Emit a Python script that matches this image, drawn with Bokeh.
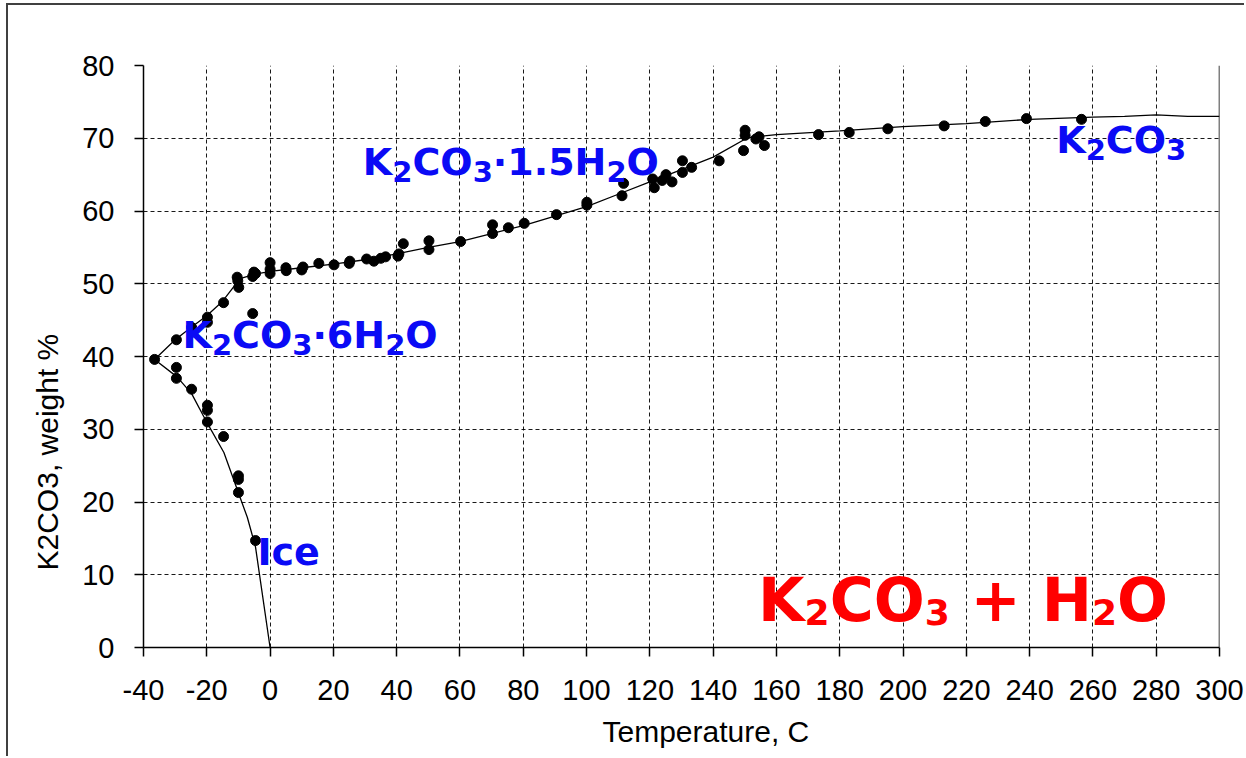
import math
from bokeh.plotting import figure
from bokeh.models import Range1d, Label, Span, FixedTicker, Title, PrintfTickFormatter
from bokeh.embed import file_html
from bokeh.resources import INLINE

# ---------------- data ----------------
x_ticks = list(range(-40, 301, 20))
y_ticks = list(range(0, 81, 10))

# measured points (Temperature, C ; K2CO3 weight %)
pts_t = [-36.5, -29.6, -29.6, -24.8, -19.8, -19.8, -19.8, -14.7, -10.0, -10.0, -10.0, -4.6,
         -29.6, -24.8, -19.8, -19.8, -14.7, -9.9, -10.2, -10.4, -5.5,
         -5.1, -5.5, -4.6, 0.0, 0.0, 0.0, 5.1, 5.0, 10.4, 10.0, 15.4, 20.2, 25.2, 25.0,
         30.5, 32.8, 35.0, 36.5, 40.4, 40.7, 42.1, 50.2, 50.2, 60.2, 70.3, 70.3, 75.3,
         80.3, 90.5, 100.1, 100.1, 111.2, 111.7, 120.9, 121.4, 123.9, 125.1, 127.0,
         130.3, 130.3, 133.2, 141.9, 150.1, 150.1, 149.6, 153.5, 154.5, 156.2,
         173.3, 183.0, 195.2, 213.0, 226.0, 239.0, 256.4]
pts_w = [39.6, 38.5, 37.0, 35.5, 33.3, 32.6, 31.0, 29.0, 23.6, 23.1, 21.3, 14.7,
         42.3, 44.0, 45.4, 44.7, 47.4, 49.5, 50.4, 50.9, 45.9,
         51.6, 51.0, 51.4, 52.9, 51.4, 52.0, 51.8, 52.2, 52.3, 51.9, 52.8, 52.6, 53.1, 52.8,
         53.4, 53.1, 53.5, 53.7, 53.8, 54.1, 55.5, 55.9, 54.7, 55.8, 58.1, 56.9, 57.7,
         58.3, 59.5, 61.2, 60.8, 62.1, 63.8, 64.4, 63.2, 64.2, 65.0, 64.0,
         66.9, 65.3, 66.0, 66.9, 71.1, 70.4, 68.3, 69.9, 70.2, 69.0,
         70.5, 70.8, 71.3, 71.7, 72.3, 72.7, 72.6]

# solubility curves
ice_t = [-36.5, -29.4, -24.8, -19.8, -14.6, -9.3, -7.2, -4.6, 0.0]
ice_w = [39.6, 37.2, 34.9, 30.8, 26.8, 20.4, 17.9, 13.8, 0.0]

hexa_t = [-36.5, -30.0, -25.0, -20.0, -15.0, -9.5]
hexa_w = [39.6, 42.3, 44.0, 45.6, 47.6, 50.7]

sesqui_t = [-9.5, -5, 0, 10, 20, 30, 40, 50, 60, 70, 80, 90, 100, 110, 120, 130, 140, 151]
sesqui_w = [50.7, 51.3, 51.7, 52.2, 52.7, 53.3, 54.1, 55.0, 55.8, 56.9, 58.0, 59.3,
            60.6, 62.3, 64.0, 65.7, 67.4, 70.1]

anhyd_t = [151, 160, 180, 200, 220, 240, 260, 270, 280, 290, 300]
anhyd_w = [70.1, 70.5, 71.0, 71.6, 72.0, 72.6, 72.9, 73.0, 73.2, 73.0, 73.0]

# ---------------- figure ----------------
W, H = 1238, 753
p = figure(width=W, height=H, x_range=Range1d(-40, 300), y_range=Range1d(0, 80),
           output_backend="svg", toolbar_location=None,
           min_border_left=135, min_border_right=27, min_border_top=60, min_border_bottom=111)
p.styles = {"margin-left": "6px", "margin-top": "3px",
            "border-left": "2px solid #404040", "border-top": "2px solid #404040"}
p.outline_line_color = None
p.background_fill_color = "white"
p.border_fill_color = "white"

for ax, ticks in ((p.xaxis[0], x_ticks), (p.yaxis[0], y_ticks)):
    ax.ticker = FixedTicker(ticks=ticks)
    ax.formatter = PrintfTickFormatter(format="%d")
    ax.axis_line_color = "black"
    ax.axis_line_width = 1.5
    ax.major_tick_line_color = "black"
    ax.major_tick_line_width = 1.5
    ax.major_tick_in = 0
    ax.major_tick_out = 9
    ax.minor_tick_line_color = None
    ax.major_label_text_font = "Liberation Sans"
    ax.major_label_text_font_size = "29px"
    ax.major_label_text_color = "black"
p.yaxis[0].major_label_standoff = 20
p.xaxis[0].major_label_standoff = 23

for g in (p.xgrid[0], p.ygrid[0]):
    g.grid_line_color = "black"
    g.grid_line_dash = "4 3"
    g.grid_line_width = 1
    g.grid_line_alpha = 0.9

p.add_layout(Span(location=300, dimension="height", line_color="black", line_width=1.5))

# curves
for t, w in ((ice_t, ice_w), (hexa_t, hexa_w), (sesqui_t, sesqui_w), (anhyd_t, anhyd_w)):
    p.line(t, w, line_color="black", line_width=1.3)

p.scatter(pts_t, pts_w, size=10, marker="circle", fill_color="black", line_color="black")

# axis titles (placed as side titles so that they can sit off-centre like the original)
p.add_layout(Title(text="Temperature, C", align="left", offset=459, standoff=21,
                   text_font="Liberation Sans", text_font_size="30px",
                   text_font_style="normal", text_color="black"), "below")
p.add_layout(Title(text="K2CO3, weight %", align="left", offset=77, standoff=31,
                   text_font="Liberation Sans", text_font_size="30px",
                   text_font_style="normal", text_color="black"), "left")

# formula annotations built from pieces (main / subscript)
ADV = {'K': .775, 'C': .734, 'O': .850, 'H': .837, 'I': .372, 'c': .593, 'e': .678,
       '.': .380, '·': .380, ' ': .348, '+': .838}
for d in "0123456789":
    ADV[d] = .696

def formula(parts, x, y, size, sub_size, drop, color):
    off = 0.0
    for txt, sub in parts:
        fs = sub_size if sub else size
        lead = len(txt) - len(txt.lstrip())
        off += lead * ADV[' '] * fs
        body = txt.strip()
        p.add_layout(Label(x=x, y=y, x_offset=off,
                           y_offset=(-drop if sub else 0) + 0.42 * size, text=body,
                           text_font="DejaVu Sans", text_font_style="bold",
                           text_font_size=f"{fs}px", text_color=color,
                           text_align="left", text_baseline="alphabetic"))
        off += sum(ADV.get(ch, .7) for ch in txt.lstrip()) * fs

BLUE = "#0A0AF5"
formula([("K", 0), ("2", 1), ("CO", 0), ("3", 1), ("·6H", 0), ("2", 1), ("O", 0)],
        -27.7, 40.8, 38, 29, 10, BLUE)
formula([("K", 0), ("2", 1), ("CO", 0), ("3", 1), ("·1.5H", 0), ("2", 1), ("O", 0)],
        29.3, 64.6, 38, 29, 10, BLUE)
formula([("K", 0), ("2", 1), ("CO", 0), ("3", 1)], 248.4, 67.6, 38, 29, 10, BLUE)
formula([("Ice", 0)], -4.0, 10.9, 38, 29, 10, BLUE)
formula([("K", 0), ("2", 1), ("CO", 0), ("3", 1), (" + H", 0), ("2", 1), ("O", 0)],
        154.2, 3.0, 60, 36, 12, "#FF0000")

open("out.html", "w").write(file_html(p, INLINE))
